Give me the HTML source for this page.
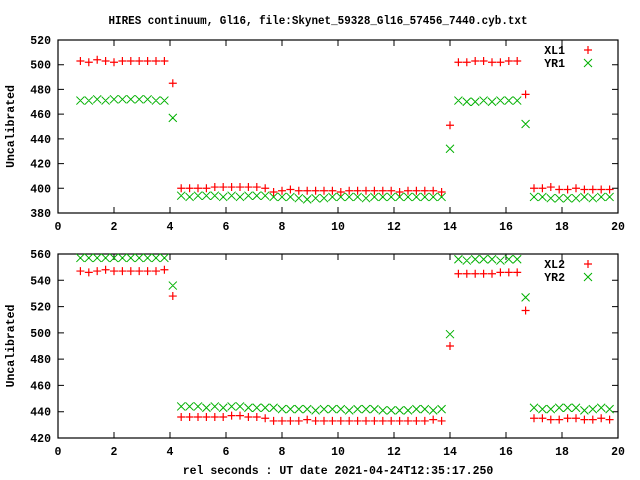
<!DOCTYPE html>
<html><head><meta charset="utf-8"><style>
html,body{margin:0;padding:0;background:#fff;}
svg{display:block;}
text{font-family:"Liberation Mono",monospace;font-weight:bold;font-size:11.5px;fill:#000;}
</style></head><body>
<svg id="chart" width="640" height="480" viewBox="0 0 640 480" xmlns="http://www.w3.org/2000/svg">
<text x="318" y="24" text-anchor="middle" textLength="419" lengthAdjust="spacingAndGlyphs">HIRES continuum, Gl16, file:Skynet_59328_Gl16_57456_7440.cyb.txt</text>
<text x="338" y="474" text-anchor="middle">rel seconds : UT date 2021-04-24T12:35:17.250</text>
</svg>
<script>
const times = [0.8,1.1,1.4,1.7,2.0,2.3,2.6,2.9,3.2,3.5,3.8,4.1,4.4,4.7,5.0,5.3,5.6,5.9,6.2,6.5,6.8,7.1,7.4,7.7,8.0,8.3,8.6,8.9,9.2,9.5,9.8,10.1,10.4,10.7,11.0,11.3,11.6,11.9,12.2,12.5,12.8,13.1,13.4,13.7,14.0,14.3,14.6,14.9,15.2,15.5,15.8,16.1,16.4,16.7,17.0,17.3,17.6,17.9,18.2,18.5,18.8,19.1,19.4,19.7];
const xl1 = [503,502,504,503,502,503,503,503,503,503,503,485,400,400,400,400,401,401,401,401,401,401,400,397,398,399,398,398,398,398,398,397,398,398,398,398,398,398,397,398,398,398,398,397,451,502,502,503,503,502,502,503,503,476,400,400,401,399,399,400,399,399,399,399];
const yr1 = [471,471,472,471,472,472,472,472,472,471,471,457,394,393,394,394,394,393,394,393,394,394,394,393,393,393,392,391,392,392,393,393,393,393,392,393,393,393,393,393,393,393,393,393,432,471,470,470,471,470,471,471,471,452,393,393,392,392,392,392,393,392,393,393];
const xl2 = [547,546,547,548,547,547,547,547,547,547,548,528,436,436,436,436,436,436,437,437,436,436,435,433,433,433,433,434,433,433,433,433,433,433,433,433,433,433,433,433,433,433,434,433,490,545,545,545,545,545,546,546,546,517,435,435,434,434,435,435,434,434,435,434];
const yr2 = [557,557,557,557,557,557,557,557,557,557,557,536,444,444,444,443,444,443,444,444,443,443,443,443,442,442,442,442,441,442,442,442,441,442,442,442,441,441,441,441,442,442,441,442,499,556,555,556,556,556,555,556,556,527,443,442,442,443,443,443,441,442,443,442];
const xTicks = [0,2,4,6,8,10,12,14,16,18,20];
const yTicks1 = [380,400,420,440,460,480,500,520];
const yTicks2 = [420,440,460,480,500,520,540,560];

const NS="http://www.w3.org/2000/svg";
const svg=document.getElementById('chart');
function mk(tag,attrs,parent){const e=document.createElementNS(NS,tag);for(const k in attrs)e.setAttribute(k,attrs[k]);(parent||svg).appendChild(e);return e;}

function panel(id,top,bottom,yTicks,s1,s2,n1,n2){
  const L=58,R=618,ymin=yTicks[0],ymax=yTicks[yTicks.length-1];
  const xs=v=>L+(v-0)/(20-0)*(R-L);
  const ys=v=>bottom-(v-ymin)/(ymax-ymin)*(bottom-top);
  const g=mk('g',{});
  
  
  const fr=mk('rect',{x:L,y:top,width:R-L,height:bottom-top,fill:'none',stroke:'#000','stroke-width':1.2},g);
  
  
  xTicks.forEach(t=>{
    const x=xs(t);
    const tk=mk('path',{d:`M${x} ${bottom}v-6M${x} ${top}v6`,stroke:'#000','stroke-width':1},g);
    
    
    const lb=mk('text',{x:x,y:bottom+17,'text-anchor':'middle'},g);
    lb.textContent=t;
    
    
  });
  yTicks.forEach(t=>{
    const y=ys(t);
    const tk=mk('path',{d:`M${L} ${y}h6M${R} ${y}h-6`,stroke:'#000','stroke-width':1},g);
    
    
    const lb=mk('text',{x:L-7,y:y+4,'text-anchor':'end'},g);
    lb.textContent=t;
    
    
  });
  const cy=(top+bottom)/2;
  const yt=mk('text',{x:14,y:cy,'text-anchor':'middle',transform:`rotate(-90 14 ${cy})`},g);
  yt.textContent='Uncalibrated';
  
  
  function plus(x,y){return `M${x-4} ${y}h8M${x} ${y-4}v8`;}
  function cross(x,y){return `M${x-4} ${y-4}l8 8M${x-4} ${y+4}l8 -8`;}
  let d1='',d2='';
  times.forEach((t,i)=>{d1+=plus(xs(t),ys(s1[i]));d2+=cross(xs(t),ys(s2[i]));});
  const p2=mk('path',{d:d2,stroke:'#00b000','stroke-width':1,fill:'none'},g);
  
  
  const p1=mk('path',{d:d1,stroke:'#ff0000','stroke-width':1.2,fill:'none'},g);
  
  
  const lg=mk('g',{},g);
  
  
  const t1=mk('text',{x:565,y:top+14,'text-anchor':'end'},lg);t1.textContent=n1;
  
  
  const t2=mk('text',{x:565,y:top+27,'text-anchor':'end'},lg);t2.textContent=n2;
  
  
  const m1=mk('path',{d:plus(588,top+10),stroke:'#ff0000','stroke-width':1.2},lg);
  
  
  const m2=mk('path',{d:cross(588,top+23),stroke:'#00b000','stroke-width':1},lg);
  
  
}
panel('top',40,213,yTicks1,xl1,yr1,'XL1','YR1');
panel('bottom',254,438,yTicks2,xl2,yr2,'XL2','YR2');
</script>
</body></html>
